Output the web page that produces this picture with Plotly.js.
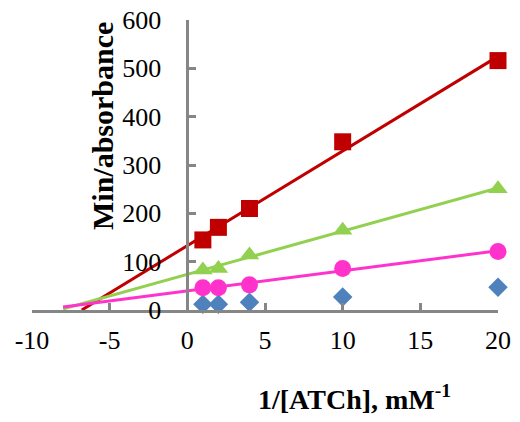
<!DOCTYPE html>
<html>
<head>
<meta charset="utf-8">
<script src="https://cdn.plot.ly/plotly-3.0.1.min.js"></script>
<style>html,body{margin:0;padding:0;background:#fff;}#chart{width:520px;height:422px;}</style>
</head>
<body>
<div id="chart"></div>
<script>
// Data
const xVals = [1, 2, 4, 10, 20];
const seriesRed = [145, 171, 210, 348, 516];
const seriesGreen = [83, 86, 114, 165, 251];
const seriesPink = [46, 46, 52, 86, 121];
const seriesBlue = [12, 12, 16, 27, 47];
const xTicks = [-10, -5, 0, 5, 10, 15, 20];
const yTicks = [0, 100, 200, 300, 400, 500, 600];
const forecastStart = -8; // trendline backward forecast

function fit(xs, ys) {
  const n = xs.length;
  const mx = xs.reduce((a, b) => a + b, 0) / n;
  const my = ys.reduce((a, b) => a + b, 0) / n;
  let sxy = 0, sxx = 0;
  for (let i = 0; i < n; i++) { sxy += (xs[i] - mx) * (ys[i] - my); sxx += (xs[i] - mx) ** 2; }
  const m = sxy / sxx;
  return { m: m, b: my - m * mx };
}
function trend(ys, color) {
  const f = fit(xVals, ys);
  const x1 = Math.max(...xVals);
  // start where the forecast begins, or where it meets the y = 0 floor of the axis
  let x0 = forecastStart;
  if (f.m * x0 + f.b < 0) x0 = -f.b / f.m;
  return { x: [x0, x1], y: [f.m * x0 + f.b, f.m * x1 + f.b], mode: 'lines',
    line: { color: color, width: 3 }, hoverinfo: 'skip', showlegend: false };
}
function pts(ys, color, symbol, size) {
  return { x: xVals, y: ys, mode: 'markers', cliponaxis: false,
    marker: { color: color, symbol: symbol, size: size }, showlegend: false };
}
const cRed = '#C00000', cGreen = '#92D050', cPink = '#FF33CC', cBlue = '#4F81BD';
const data = [
  trend(seriesRed, cRed), trend(seriesGreen, cGreen), trend(seriesPink, cPink),
  pts(seriesBlue, cBlue, 'diamond', 15),
  pts(seriesPink, cPink, 'circle', 17),
  pts(seriesGreen, cGreen, 'triangle-up', 17),
  pts(seriesRed, cRed, 'square', 17)
];
const axisGray = '#868686';
const serif = '"Liberation Serif", serif';
const tickFont = { family: serif, size: 26, color: '#000' };
const layout = {
  width: 520, height: 422,
  margin: { l: 32, r: 22, t: 20, b: 112 },
  paper_bgcolor: '#fff', plot_bgcolor: 'rgba(0,0,0,0)',
  showlegend: false,
  font: { family: serif },
  xaxis: {
    range: [-10, 20], tickvals: xTicks, ticktext: xTicks.map(String),
    showgrid: false, zeroline: false, showline: true, linecolor: axisGray, linewidth: 3,
    ticks: 'inside', ticklen: 7, tickwidth: 3, tickcolor: axisGray,
    tickfont: tickFont, ticklabelstandoff: 5, fixedrange: true
  },
  yaxis: {
    range: [0, 600], tickvals: yTicks, ticktext: yTicks.map(String),
    anchor: 'free', position: 1 / 3,
    showgrid: false, zeroline: false, showline: true, linecolor: axisGray, linewidth: 3,
    ticks: 'inside', ticklen: 7, tickwidth: 3, tickcolor: axisGray,
    tickfont: tickFont, ticklabelstandoff: 20, fixedrange: true
  },
  annotations: [
    { text: '<b>Min/absorbance</b>', xref: 'paper', yref: 'paper', x: 0.1524, y: 0.6345,
      xanchor: 'center', yanchor: 'middle', textangle: -90, showarrow: false,
      font: { family: serif, size: 30, color: '#000' } },
    { text: '<b>1/[ATCh], mM<sup>-1</sup></b>', xref: 'paper', yref: 'paper', x: 0.691, y: -0.30,
      xanchor: 'center', yanchor: 'middle', showarrow: false,
      font: { family: serif, size: 28, color: '#000' } }
  ]
};
Plotly.newPlot('chart', data, layout, { displayModeBar: false, staticPlot: true });
</script>
</body>
</html>
